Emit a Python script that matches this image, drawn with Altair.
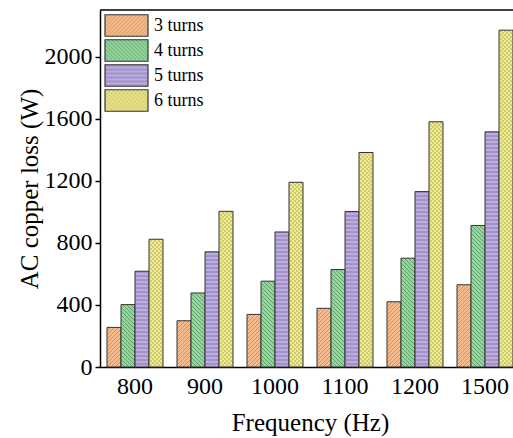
import altair as alt
import pandas as pd
import jinja2

freqs = ["800", "900", "1000", "1100", "1200", "1500"]
series = ["3 turns", "4 turns", "5 turns", "6 turns"]
loss_3 = [255, 298, 339, 378, 420, 530]
loss_4 = [402, 477, 553, 628, 701, 912]
loss_5 = [617, 742, 870, 1002, 1130, 1515]
loss_6 = [823, 1003, 1190, 1382, 1580, 2170]
y_ticks = [0, 400, 800, 1200, 1600, 2000]

rows = []
for s, vals in zip(series, [loss_3, loss_4, loss_5, loss_6]):
    for f, v in zip(freqs, vals):
        rows.append({"freq": f, "turns": s, "loss": v})
df = pd.DataFrame(rows)

FONT = "Liberation Serif"
fills = ["url(#pat3)", "url(#pat4)", "url(#pat5)", "url(#pat6)"]

bars = alt.Chart(df).mark_bar(stroke="#333333", strokeWidth=1, opacity=1).encode(
    x=alt.X(
        "freq:N",
        sort=freqs,
        scale=alt.Scale(range=[0, 420], paddingInner=0.2, paddingOuter=0.1),
        axis=alt.Axis(
            title="Frequency (Hz)",
            labelAngle=0,
            ticks=False,
            labelPadding=7,
            titlePadding=12,
        ),
    ),
    xOffset=alt.XOffset("turns:N", sort=series, scale=alt.Scale(paddingInner=0, paddingOuter=0)),
    y=alt.Y(
        "loss:Q",
        scale=alt.Scale(domain=[0, 2300], nice=False),
        axis=alt.Axis(
            title="AC copper loss (W)",
            values=y_ticks,
            format="d",
            tickSize=5,
            labelPadding=3,
            titlePadding=2,
        ),
    ),
    color=alt.Color(
        "turns:N",
        sort=series,
        scale=alt.Scale(domain=series, range=fills),
        legend=alt.Legend(
            orient="none",
            legendX=15,
            legendY=4,
            title=None,
            symbolType="M-2,-1H2V1H-2Z",
            symbolSize=462,
            symbolStrokeColor="#333333",
            symbolStrokeWidth=1.2,
            symbolOpacity=1,
            labelFont=FONT,
            labelFontSize=18,
            labelColor="black",
            labelOffset=16,
            rowPadding=-3.5,
            padding=0,
        ),
    ),
)

top_frame = alt.Chart(pd.DataFrame({"top": [2300]})).mark_rule(
    color="black", strokeWidth=1.5
).encode(y="top:Q")

chart = (
    alt.layer(bars, top_frame)
    .properties(
        width=413,
        height=357,
        autosize=alt.AutoSizeParams(type="none"),
        padding={"left": 100, "top": 10, "right": 0, "bottom": 71},
        background="white",
    )
    .configure_view(stroke=None)
    .configure_axis(
        grid=False,
        domainColor="black",
        domainWidth=1.5,
        tickColor="black",
        tickWidth=1.5,
        labelFont=FONT,
        labelFontSize=24,
        labelColor="black",
        titleFont=FONT,
        titleFontSize=25,
        titleFontWeight="normal",
        titleColor="black",
    )
)

DEFS = """<svg width="0" height="0" style="position:absolute;left:0;top:0" aria-hidden="true">
<defs>
<pattern id="pat3" patternUnits="userSpaceOnUse" width="4" height="4">
<rect width="4" height="4" fill="#F6BC8E"/>
<path d="M-1,1 l2,-2 M0,4 l4,-4 M3,5 l2,-2" stroke="#C98A5C" stroke-width="0.9"/>
</pattern>
<pattern id="pat4" patternUnits="userSpaceOnUse" width="4" height="4">
<rect width="4" height="4" fill="#93D69E"/>
<path d="M-1,3 l2,2 M0,0 l4,4 M3,-1 l2,2" stroke="#5C9A66" stroke-width="0.9"/>
</pattern>
<pattern id="pat5" patternUnits="userSpaceOnUse" width="4" height="4">
<rect width="4" height="4" fill="#BBABDE"/>
<path d="M0,2 H4" stroke="#8878B0" stroke-width="1"/>
</pattern>
<pattern id="pat6" patternUnits="userSpaceOnUse" width="4" height="4">
<rect width="4" height="4" fill="#EEEA8E"/>
<rect x="0" y="0" width="2" height="2" fill="#CFCA74"/>
<rect x="2" y="2" width="2" height="2" fill="#CFCA74"/>
</pattern>
</defs></svg>"""

EMBED = {"renderer": "svg", "actions": False}
html = chart.to_html(embed_options=EMBED)
html = html.replace("<body>", "<body>\n" + DEFS, 1)
tpl = jinja2.Template("{% raw %}" + html + "{% endraw %}")

chart.save("out.html", embed_options={"renderer": "svg", "actions": False}, template=tpl)
